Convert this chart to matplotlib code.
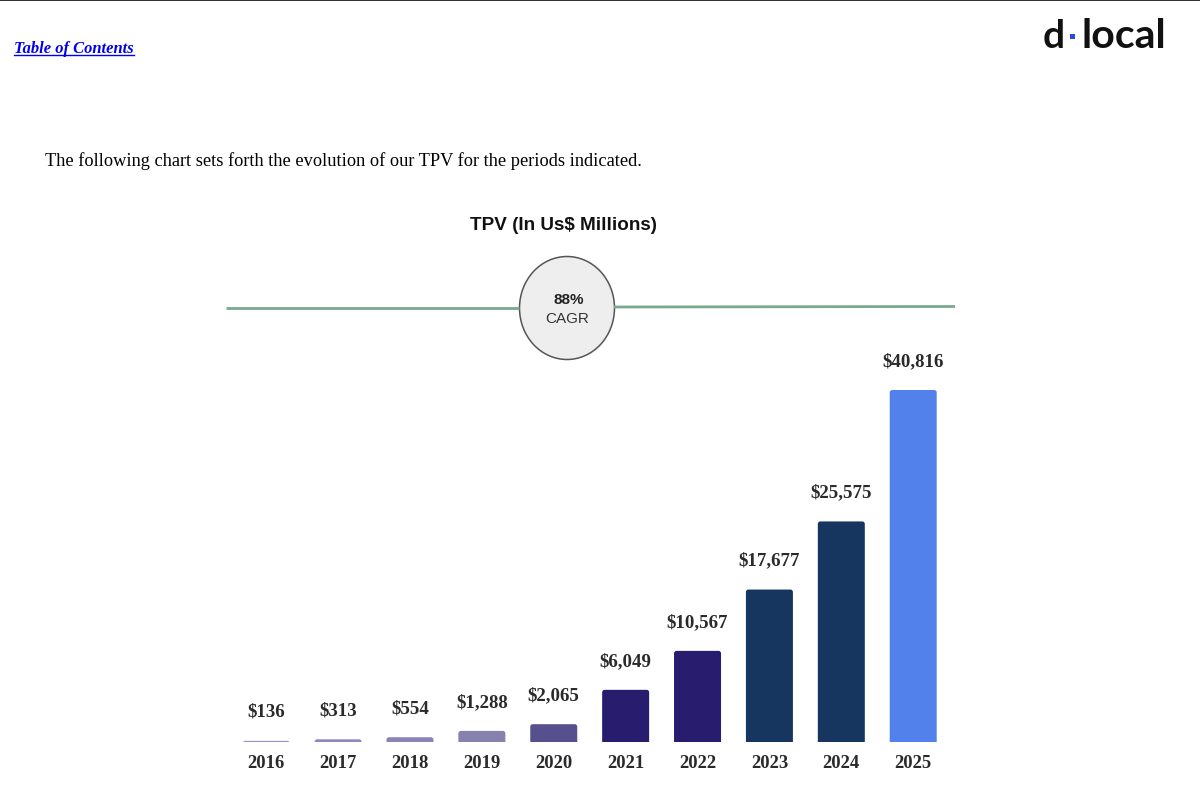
import matplotlib
matplotlib.use("Agg")
import matplotlib.pyplot as plt
from matplotlib.patches import FancyBboxPatch, Ellipse, Rectangle

years = ["2016", "2017", "2018", "2019", "2020", "2021", "2022", "2023", "2024", "2025"]
tpv = [136, 313, 554, 1288, 2065, 6049, 10567, 17677, 25575, 40816]
labels = ["$136", "$313", "$554", "$1,288", "$2,065", "$6,049", "$10,567", "$17,677", "$25,575", "$40,816"]
colors = ["#9c92d0", "#9186c1", "#8a84b5", "#8781ad", "#56508f", "#271c6e", "#271c6e",
          "#16365f", "#16365f", "#5381ec"]

W, H = 1200, 804
fig = plt.figure(figsize=(W / 100, H / 100), dpi=100, facecolor="white")

# page overlay in pixel coordinates
pg = fig.add_axes([0, 0, 1, 1])
pg.set_xlim(0, W)
pg.set_ylim(H, 0)
pg.axis("off")
SERIF = "Liberation Serif"
pg.add_patch(Rectangle((0, 0), W, 1.5, color="#333333", lw=0))
pg.text(13.5, 49, "Table of Contents", family=SERIF, style="italic", weight="bold",
        fontsize=11.9, color="#0000ee", va="center", ha="left")
pg.plot([14, 134], [55.5, 55.5], color="#0000ee", lw=1)
pg.text(45, 161, "The following chart sets forth the evolution of our TPV for the periods indicated.",
        family=SERIF, fontsize=13.27, color="black", va="center", ha="left")
pg.text(1043, 37, "d", family="Lato", weight="bold", fontsize=28, color="#111111", va="center", ha="left")
pg.add_patch(Rectangle((1070, 35), 5, 5, color="#2b4be0", lw=0))
pg.text(1082, 37, "local", family="Lato", weight="bold", fontsize=29.5, color="#111111", va="center", ha="left")
pg.text(563.5, 226, "TPV (In Us$ Millions)", family="Liberation Sans", weight="bold",
        fontsize=13.6, color="#111111", ha="center", va="center")
pg.plot([226, 519], [309, 309], color="#7aa98e", lw=2, solid_capstyle="butt")
pg.plot([614, 955], [308, 307.5], color="#7aa98e", lw=2, solid_capstyle="butt")
pg.add_patch(Ellipse((567, 309), 95, 103, facecolor="#eeeeee", edgecolor="#555555", lw=1.1))
pg.text(568.5, 300.5, "88%", family="Liberation Sans", weight="bold", fontsize=11, color="#222222",
        ha="center", va="center")
pg.text(567, 319.5, "CAGR", family="Liberation Sans", fontsize=11, color="#333333",
        ha="center", va="center")

# bar chart: bars centred 71.9 px apart, baseline at y=742, 40816 reaches y=390
step = 71.9
left = 266.2 - step / 2
right = 913.2 + step / 2
base = 743
top = 330
ax = fig.add_axes([left / W, 1 - base / H, (right - left) / W, (base - top) / H])
ax.patch.set_alpha(0)
ax.set_xlim(-0.5, 9.5)
per_px = 40816 / 352
ax.set_ylim(0, (base - top) * per_px)
bw = 47 / step
rad = 2.5
for i, (v, c, lab) in enumerate(zip(tpv, colors, labels)):
    p = FancyBboxPatch((i - bw / 2, -8 * per_px), bw, v + 8 * per_px,
                       boxstyle=f"round,pad=0,rounding_size={rad / step}",
                       mutation_aspect=per_px * step, facecolor=c, edgecolor="none")
    ax.add_patch(p)
    ax.annotate(lab, (i, v), xytext=(0, 29.5 * 0.72), textcoords="offset points",
                ha="center", va="center", family=SERIF, weight="bold", fontsize=13.6, color="#2a2a2a")
ax.set_xticks(range(len(years)), years)
ax.set_yticks([])
for t in ax.get_xticklabels():
    t.set_family(SERIF)
    t.set_weight("bold")
    t.set_fontsize(13.4)
    t.set_color("#2a2a2a")
ax.tick_params(axis="x", length=0, pad=9)
for s in ax.spines.values():
    s.set_visible(False)

fig.savefig("out.png", dpi=100, facecolor="white")
